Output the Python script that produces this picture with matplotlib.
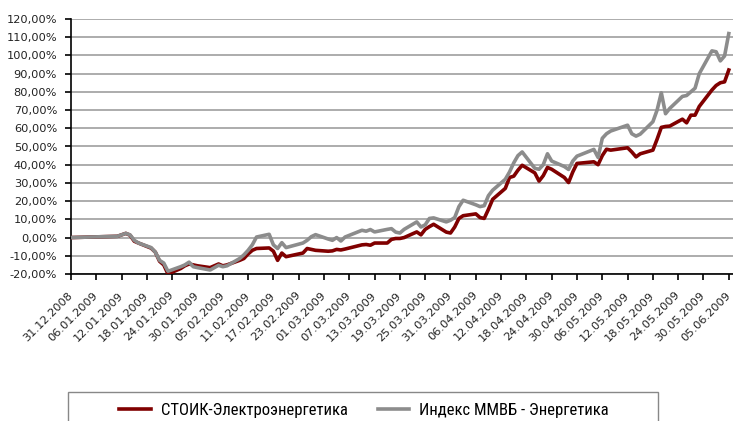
import matplotlib
matplotlib.use("Agg")
import matplotlib.pyplot as plt
from matplotlib import font_manager
from matplotlib.patches import Rectangle
import pandas as pd

dates = [
    "31.12.2008", "11.01.2009", "12.01.2009", "13.01.2009", "14.01.2009", "15.01.2009", "16.01.2009",
    "19.01.2009", "20.01.2009", "21.01.2009", "22.01.2009", "23.01.2009",
    "26.01.2009", "27.01.2009", "28.01.2009", "29.01.2009", "30.01.2009",
    "02.02.2009", "03.02.2009", "04.02.2009", "05.02.2009", "06.02.2009",
    "09.02.2009", "10.02.2009", "11.02.2009", "12.02.2009", "13.02.2009",
    "16.02.2009", "17.02.2009", "18.02.2009", "19.02.2009", "20.02.2009",
    "24.02.2009", "25.02.2009", "26.02.2009", "27.02.2009",
    "02.03.2009", "03.03.2009", "04.03.2009", "05.03.2009", "06.03.2009",
    "10.03.2009", "11.03.2009", "12.03.2009", "13.03.2009",
    "16.03.2009", "17.03.2009", "18.03.2009", "19.03.2009", "20.03.2009",
    "23.03.2009", "24.03.2009", "25.03.2009", "26.03.2009", "27.03.2009",
    "30.03.2009", "31.03.2009", "01.04.2009", "02.04.2009", "03.04.2009",
    "06.04.2009", "07.04.2009", "08.04.2009", "09.04.2009", "10.04.2009",
    "13.04.2009", "14.04.2009", "15.04.2009", "16.04.2009", "17.04.2009",
    "20.04.2009", "21.04.2009", "22.04.2009", "23.04.2009", "24.04.2009",
    "27.04.2009", "28.04.2009", "29.04.2009", "30.04.2009",
    "04.05.2009", "05.05.2009", "06.05.2009", "07.05.2009", "08.05.2009",
    "12.05.2009", "13.05.2009", "14.05.2009", "15.05.2009",
    "18.05.2009", "19.05.2009", "20.05.2009", "21.05.2009", "22.05.2009",
    "25.05.2009", "26.05.2009", "27.05.2009", "28.05.2009", "29.05.2009",
    "01.06.2009", "02.06.2009", "03.06.2009", "04.06.2009", "05.06.2009",
]

stoik = [
    0.0, 0.7, 1.5, 2.3, 1.3, -2.0, -3.0,
    -5.8, -8.0, -13.0, -15.0, -20.0,
    -17.0, -15.5, -14.5, -15.0, -15.5,
    -16.5, -15.5, -14.5, -15.5, -15.0,
    -12.5, -11.5, -9.0, -7.0, -6.0,
    -5.7, -7.5, -12.5, -8.5, -10.5,
    -8.5, -6.0, -6.5, -7.0,
    -7.5, -7.3, -6.5, -6.8, -6.3,
    -4.0, -3.8, -4.2, -3.0,
    -3.0, -1.0, -0.5, -0.5, 0.0,
    3.1, 1.5, 4.5, 6.0, 7.3,
    3.0, 2.5, 5.8, 10.5, 12.0,
    13.0, 11.0, 10.5, 15.5, 21.0,
    27.0, 33.0, 33.7, 37.0, 39.7,
    35.5, 31.0, 34.0, 38.5, 37.5,
    33.0, 30.2, 36.0, 40.7,
    41.6, 40.0, 45.0, 48.5, 48.0,
    49.3, 47.0, 44.3, 46.0,
    48.0, 54.0, 60.5, 61.0, 61.2,
    65.0, 63.0, 67.2, 67.2, 72.0,
    81.0, 83.5, 85.0, 85.5, 92.0,
]

micex = [
    0.0, 0.7, 1.5, 2.3, 1.5, -1.5, -3.0,
    -5.5, -8.0, -12.5, -14.0, -18.5,
    -16.0, -15.0, -13.5, -16.0, -16.5,
    -17.8, -16.5, -15.2, -16.0, -15.5,
    -11.5, -9.5, -7.0, -4.0, 0.3,
    1.8, -4.0, -6.0, -2.8, -5.5,
    -3.0, -1.5, 0.5, 1.6,
    -0.8, -1.5, 0.0, -1.9, 0.3,
    4.0, 3.5, 4.4, 3.1,
    4.5, 4.9, 3.0, 2.5, 4.5,
    8.6, 5.8, 7.0, 10.5, 10.8,
    8.6, 9.5, 11.0, 17.0, 20.5,
    18.0, 17.0, 17.5, 23.0, 26.0,
    32.0, 36.0, 41.0, 45.0, 47.0,
    38.0, 37.5, 40.0, 46.0, 42.0,
    39.0, 37.4, 42.0, 44.7,
    48.4, 44.0, 54.5, 57.0, 58.5,
    61.7, 57.0, 55.7, 56.8,
    63.6, 70.0, 79.5, 68.0, 70.9,
    77.5, 78.0, 80.0, 82.0, 90.0,
    102.5, 102.0, 97.0, 99.7, 112.0,
]

series_names = ["СТОИК-Электроэнергетика", "Индекс ММВБ - Энергетика"]
y_ticks = list(range(-20, 121, 10))

available = {f.name for f in font_manager.fontManager.ttflist}
legend_font = "DejaVu Sans"
for cand in ["Liberation Sans Narrow", "Roboto Condensed", "Open Sans Condensed", "Roboto"]:
    if cand in available:
        legend_font = cand
        break

plt.rcParams['font.family'] = ['DejaVu Sans']

x = pd.to_datetime(dates, format="%d.%m.%Y")
start = pd.Timestamp("2008-12-31")

fig = plt.figure(figsize=(7.33, 4.21), dpi=100)
ax = fig.add_axes([71/733, 1-274/421, 1-71/733, (274-19)/421])

ax.plot(x, stoik, color="#800000", lw=2.6, solid_joinstyle="round", zorder=3, label=series_names[0])
ax.plot(x, micex, color="#8c8c8c", lw=2.6, solid_joinstyle="round", zorder=4, label=series_names[1])

ax.set_ylim(-20, 120)
ax.set_yticks(y_ticks)
ax.set_yticklabels([f"{v:.2f}".replace(".", ",") + "%" for v in y_ticks])
ax.yaxis.grid(True, color="#a6a6a6", lw=1.3)
ax.set_axisbelow(True)

xt = pd.date_range(start, pd.Timestamp("2009-06-05"), freq="6D")
ax.set_xlim(start, start + pd.Timedelta(days=157))
ax.set_xticks(xt)
ax.set_xticklabels([d.strftime("%d.%m.%Y") for d in xt], rotation=45, ha="right",
                   va="center", rotation_mode="anchor")

for s in ["top", "right"]:
    ax.spines[s].set_visible(False)
for s in ["left", "bottom"]:
    ax.spines[s].set_color("black")
    ax.spines[s].set_linewidth(1.2)

ax.tick_params(axis="both", direction="out", length=4, width=1.2, color="black",
               labelsize=8.2, labelcolor="#222222")
ax.tick_params(axis="y", pad=6)
ax.tick_params(axis="x", pad=10)

fig.patches.append(Rectangle((68/733, -0.05), (658-68)/733, 0.05 + (421-392)/421,
                             transform=fig.transFigure, fill=False, edgecolor="#888888", lw=1.0))
leg = fig.legend(loc="center", bbox_to_anchor=(364/733, 1-410/421), ncol=2, frameon=False,
                 prop={"family": [legend_font, "DejaVu Sans"], "size": 12},
                 handlelength=1.9, columnspacing=1.8, handletextpad=0.6)
for line in leg.get_lines():
    line.set_linewidth(2.6)

fig.savefig("out.png", dpi=100)
print(legend_font)
